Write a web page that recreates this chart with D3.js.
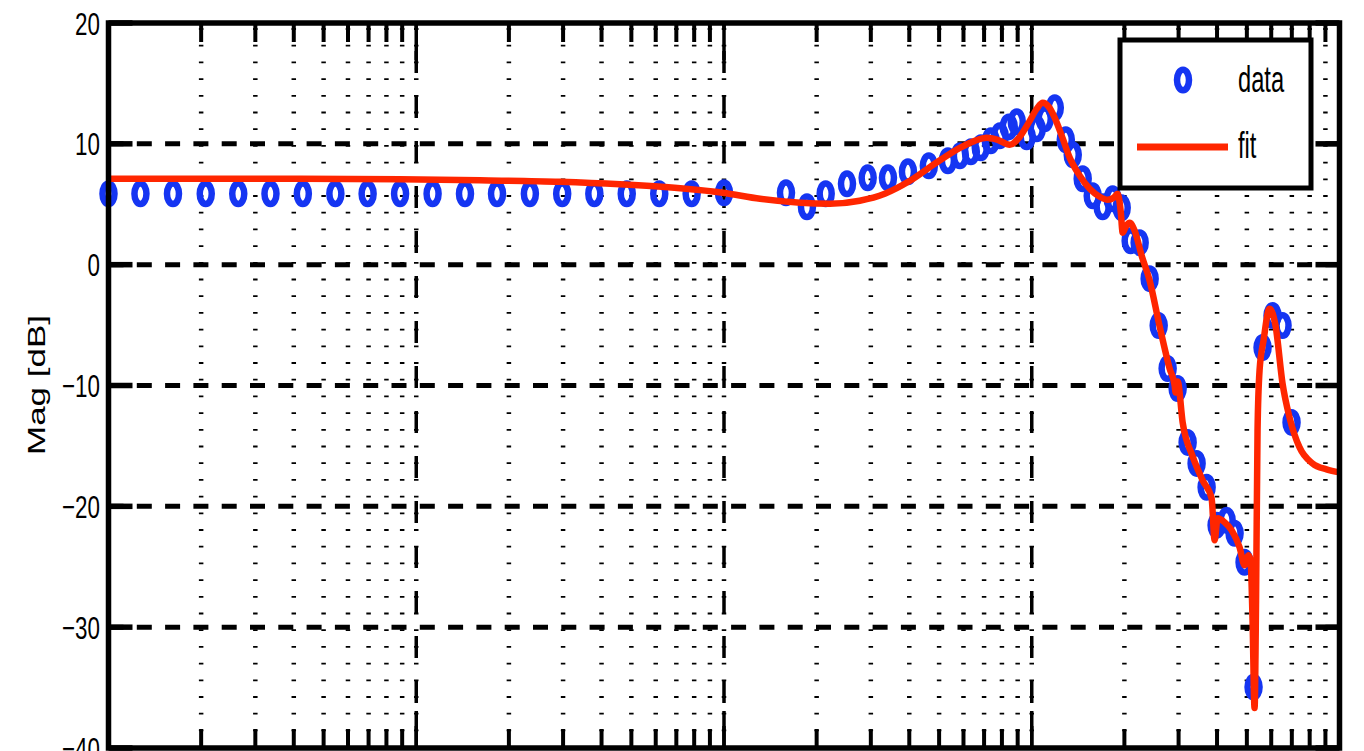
<!DOCTYPE html>
<html>
<head>
<meta charset="utf-8">
<script src="https://cdn.jsdelivr.net/npm/d3@7"></script>
<style>
  html, body { margin: 0; padding: 0; background: #fff; overflow: hidden; }
  svg { display: block; }
  text { font-family: "Liberation Sans", Arial, sans-serif; fill: #000; }
</style>
</head>
<body>
<div id="chart"></div>
<script>
// ── Data (frequency, magnitude in dB) ─────────────────────────────────

const dataFreq = [
  1, 1.27, 1.62, 2.07, 2.64, 3.36, 4.28, 5.46, 6.95, 8.86,
  11.3, 14.4, 18.3, 23.4, 29.8, 37.9, 48.3, 61.6, 78.5, 100,
  159, 186, 214, 251, 293, 341, 396, 463, 534, 584,
  634, 683, 736, 787, 842, 894, 963, 1038, 1102, 1188,
  1290, 1359, 1464, 1578, 1700, 1832, 1960, 2096, 2242, 2416,
  2585, 2764, 2979, 3210, 3433, 3700, 3987, 4297, 4561, 4915,
  5257, 5623, 6060, 6530, 6985,
];
const dataMag = [
  5.87, 5.87, 5.87, 5.87, 5.87, 5.87, 5.87, 5.87, 5.87, 5.87,
  5.87, 5.87, 5.87, 5.87, 5.87, 5.87, 5.87, 5.87, 5.87, 5.95,
  5.95, 4.79, 5.87, 6.69, 7.19, 7.19, 7.69, 8.18, 8.60, 9.01,
  9.34, 9.67, 10.25, 10.66, 11.40, 11.82, 10.58, 11.24, 12.07, 12.98,
  10.33, 9.09, 7.11, 5.70, 4.79, 5.45, 4.71, 1.98, 1.82, -1.16,
  -5.04, -8.60, -10.25, -14.71, -16.45, -18.43, -21.57, -21.16, -22.23, -24.63,
  -34.96, -6.86, -4.21, -5.04, -13.06,
];

const fitFreq = [
  1, 1.99, 4.20, 8.87, 16.1, 29.3, 45.9, 72.0, 99.3, 131,
  177, 221, 276, 333, 402, 484, 584, 653, 714, 775,
  848, 914, 985, 1038, 1086, 1136, 1188, 1252, 1329, 1432,
  1543, 1663, 1766, 1846, 1902, 1945, 1975, 2020, 2081, 2160,
  2276, 2416, 2604, 2806, 2913, 2934, 2979, 3093, 3333, 3592,
  3841, 3929, 4018, 4232, 4461, 4735, 4915, 5064, 5140, 5218,
  5297, 5356, 5416, 5498, 5664, 5924, 6196, 6530, 6881, 7416,
  8175, 9074, 10000,
];
const fitMag = [
  7.11, 7.11, 7.11, 7.07, 6.98, 6.86, 6.65, 6.32, 5.95, 5.45,
  5.12, 5.04, 5.29, 5.87, 6.94, 8.35, 9.67, 10.25, 10.50, 10.33,
  9.92, 10.58, 11.90, 12.89, 13.39, 13.06, 12.15, 10.66, 8.84, 7.36,
  6.28, 5.62, 5.37, 5.54, 5.87, 4.46, 2.64, 3.14, 3.47, 2.81,
  0.74, -1.32, -5.12, -8.60, -10.0, -10.58, -9.67, -13.06, -15.87, -17.85,
  -19.34, -22.81, -20.99, -21.32, -21.98, -23.39, -24.88, -24.05, -24.46, -29.42,
  -36.69, -27.77, -13.72, -8.76, -6.28, -3.64, -5.04, -9.83, -12.64, -15.12,
  -16.45, -16.94, -17.19,
];

const yTicks = [20, 10, 0, -10, -20, -30, -40];
const decades = [10, 100, 1000];
const legendLabels = ['data', 'fit'];

// ── Layout ────────────────────────────────────────────────────────────

const W = 1364, H = 751;
const PLOT = { left: 108.5, right: 1339.5, top: 23, bottom: 748 };
const BLUE = '#1535f2';
const RED = '#ff2600';

const svg = d3.select('#chart').append('svg')
  .attr('width', W).attr('height', H);

const x = d3.scaleLog().domain([1, 10000]).range([PLOT.left, PLOT.right]);
const y = d3.scaleLinear().domain([-40, 20]).range([PLOT.bottom, PLOT.top]);

const allLogTicks = x.ticks().filter(v => v > 1 && v < 10000);
const minorOnly = allLogTicks.filter(v => !decades.includes(v));

// ── Grid ──────────────────────────────────────────────────────────────

const grid = svg.append('g');

// dotted minor verticals (also under decade lines)
grid.selectAll('.vminor').data(allLogTicks).join('line')
  .attr('x1', d => x(d)).attr('x2', d => x(d))
  .attr('y1', PLOT.bottom).attr('y2', PLOT.top)
  .attr('stroke', '#000').attr('stroke-width', 4.5)
  .attr('stroke-dasharray', '1.8,14.9');

// dashed decade verticals
grid.selectAll('.vmajor').data(decades).join('line')
  .attr('x1', d => x(d)).attr('x2', d => x(d))
  .attr('y1', PLOT.bottom).attr('y2', PLOT.top)
  .attr('stroke', '#000').attr('stroke-width', 3.5)
  .attr('stroke-dasharray', '22,23');

// dashed horizontals
grid.selectAll('.hmajor').data(yTicks.filter(v => v > -40 && v < 20)).join('line')
  .attr('x1', PLOT.left).attr('x2', PLOT.right)
  .attr('y1', d => y(d)).attr('y2', d => y(d))
  .attr('stroke', '#000').attr('stroke-width', 5)
  .attr('stroke-dasharray', '15,13.3');

// ── Series ────────────────────────────────────────────────────────────

const points = dataFreq.map((f, i) => ({ f, m: dataMag[i] }));
const fit = fitFreq.map((f, i) => ({ f, m: fitMag[i] }));

svg.append('g').selectAll('ellipse').data(points).join('ellipse')
  .attr('cx', d => x(d.f)).attr('cy', d => y(d.m))
  .attr('rx', 6).attr('ry', 10.25)
  .attr('fill', 'none').attr('stroke', BLUE).attr('stroke-width', 6.5);

const line = d3.line()
  .x(d => x(d.f)).y(d => y(d.m))
  .curve(d3.curveMonotoneX);

svg.append('path').datum(fit)
  .attr('d', line)
  .attr('fill', 'none').attr('stroke', RED)
  .attr('stroke-width', 6.5).attr('stroke-linejoin', 'round');

// ── Axes frame & ticks ────────────────────────────────────────────────

const axes = svg.append('g');

axes.selectAll('.tminor').data(minorOnly).join('g')
  .each(function (d) {
    const g = d3.select(this);
    g.append('line').attr('x1', x(d)).attr('x2', x(d))
      .attr('y1', PLOT.top).attr('y2', PLOT.top + 19)
      .attr('stroke', '#000').attr('stroke-width', 4);
    g.append('line').attr('x1', x(d)).attr('x2', x(d))
      .attr('y1', PLOT.bottom).attr('y2', PLOT.bottom - 19)
      .attr('stroke', '#000').attr('stroke-width', 4);
  });

axes.selectAll('.tmajor').data(decades).join('g')
  .each(function (d) {
    const g = d3.select(this);
    g.append('line').attr('x1', x(d)).attr('x2', x(d))
      .attr('y1', PLOT.top).attr('y2', PLOT.top + 37)
      .attr('stroke', '#000').attr('stroke-width', 3.5);
    g.append('line').attr('x1', x(d)).attr('x2', x(d))
      .attr('y1', PLOT.bottom).attr('y2', PLOT.bottom - 37)
      .attr('stroke', '#000').attr('stroke-width', 3.5);
  });

axes.selectAll('.ty').data(yTicks).join('g')
  .each(function (d) {
    const g = d3.select(this);
    g.append('line').attr('x1', PLOT.left).attr('x2', PLOT.left + 24)
      .attr('y1', y(d)).attr('y2', y(d))
      .attr('stroke', '#000').attr('stroke-width', 5.5);
    g.append('line').attr('x1', PLOT.right).attr('x2', PLOT.right - 24)
      .attr('y1', y(d)).attr('y2', y(d))
      .attr('stroke', '#000').attr('stroke-width', 5.5);
  });

axes.append('rect')
  .attr('x', PLOT.left).attr('y', PLOT.top)
  .attr('width', PLOT.right - PLOT.left).attr('height', PLOT.bottom - PLOT.top)
  .attr('fill', 'none').attr('stroke', '#000').attr('stroke-width', 5.5);

// tick labels (the figure is squeezed horizontally)
axes.selectAll('.ylab').data(yTicks).join('text')
  .attr('transform', d => `translate(100,${y(d)}) scale(0.7,1)`)
  .attr('dy', '0.36em')
  .attr('text-anchor', 'end')
  .attr('font-size', 32)
  .text(d => d < 0 ? '\u2212' + Math.abs(d) : String(d));

svg.append('text')
  .attr('transform', `translate(45,385) scale(0.7,1) rotate(-90)`)
  .attr('text-anchor', 'middle')
  .attr('font-size', 35)
  .text('Mag [dB]');

// ── Legend ────────────────────────────────────────────────────────────

const lg = svg.append('g');
lg.append('rect')
  .attr('x', 1120).attr('y', 40).attr('width', 191).attr('height', 148)
  .attr('fill', '#fff').attr('stroke', '#000').attr('stroke-width', 5);

lg.append('ellipse')
  .attr('cx', 1183).attr('cy', 80).attr('rx', 6).attr('ry', 10.25)
  .attr('fill', 'none').attr('stroke', BLUE).attr('stroke-width', 6.5);

lg.append('line')
  .attr('x1', 1137).attr('x2', 1228).attr('y1', 147).attr('y2', 147)
  .attr('stroke', RED).attr('stroke-width', 7);

lg.selectAll('.lt').data(legendLabels).join('text')
  .attr('transform', (d, i) => `translate(1238,${i === 0 ? 92 : 158}) scale(0.64,1)`)
  .attr('font-size', 37)
  .text(d => d);
</script>
</body>
</html>
